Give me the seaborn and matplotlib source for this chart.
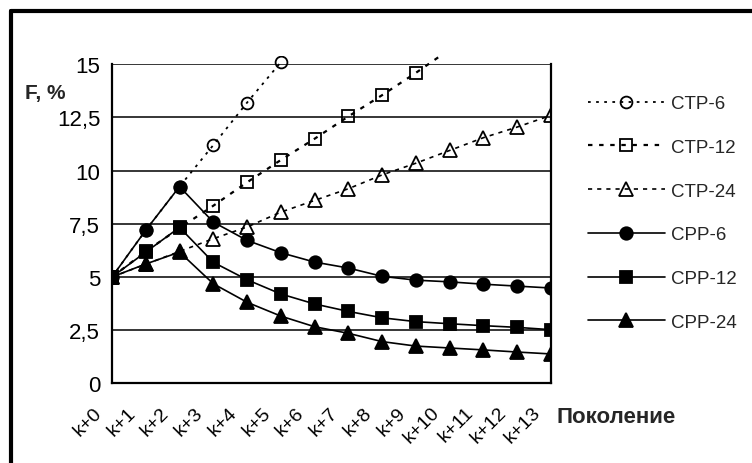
import matplotlib
matplotlib.use("Agg")
import matplotlib.pyplot as plt
import seaborn as sns
import numpy as np
import pandas as pd
from matplotlib.lines import Line2D
from matplotlib.patches import Rectangle
from matplotlib.transforms import ScaledTranslation

# ---- data ----
generations = ["k+0", "k+1", "k+2", "k+3", "k+4", "k+5", "k+6", "k+7",
               "k+8", "k+9", "k+10", "k+11", "k+12", "k+13"]
ctp6 = [5.0, 7.2, 9.25, 11.2, 13.2, 15.1]
ctp12 = [5.0, 6.2, 7.3, 8.35, 9.45, 10.5, 11.5, 12.55, 13.55, 14.6, 15.7]
ctp24 = [5.0, 5.6, 6.2, 6.8, 7.35, 8.05, 8.6, 9.15, 9.8, 10.35, 10.95, 11.55, 12.05, 12.6]
cpp6 = [5.0, 7.2, 9.25, 7.58, 6.72, 6.14, 5.7, 5.42, 5.03, 4.85, 4.77, 4.66, 4.57, 4.48]
cpp12 = [5.0, 6.17, 7.33, 5.69, 4.87, 4.2, 3.73, 3.38, 3.08, 2.9, 2.8, 2.71, 2.63, 2.52]
cpp24 = [5.0, 5.61, 6.17, 4.68, 3.81, 3.16, 2.66, 2.35, 1.96, 1.75, 1.66, 1.57, 1.47, 1.38]
yticks = [0, 2.5, 5, 7.5, 10, 12.5, 15]
ytick_labels = ["0", "2,5", "5", "7,5", "10", "12,5", "15"]

series = [
    ("CTP-6", ctp6, dict(marker="o", linestyle=(0, (1.5, 3.0)), linewidth=1.3,
                         markersize=8.5, markerfacecolor="none")),
    ("CTP-12", ctp12, dict(marker="s", linestyle=(0, (2.0, 3.0)), linewidth=1.6,
                           markersize=8, markerfacecolor="none")),
    ("CTP-24", ctp24, dict(marker="^", linestyle=(0, (2.5, 3.0)), linewidth=1.2,
                           markersize=9.5, markerfacecolor="none")),
    ("CPP-6", cpp6, dict(marker="o", linestyle="-", linewidth=1.2,
                         markersize=9, markerfacecolor="black")),
    ("CPP-12", cpp12, dict(marker="s", linestyle="-", linewidth=1.2,
                           markersize=8.5, markerfacecolor="black")),
    ("CPP-24", cpp24, dict(marker="^", linestyle="-", linewidth=1.2,
                           markersize=10, markerfacecolor="black")),
]

sns.set_style("white")
plt.rcParams["font.family"] = ["Liberation Sans", "DejaVu Sans"]

fig = plt.figure(figsize=(7.52, 4.64), dpi=100)
ax = fig.add_axes([112 / 752, 1 - 384.3 / 464, (551 - 112) / 752, (384.3 - 65.3) / 464])

clip = Rectangle((0, 0), 1, 15.4 / 15, transform=ax.transAxes, facecolor="none", edgecolor="none")

for i, (name, vals, kw) in enumerate(series):
    x = np.arange(len(vals))
    sns.lineplot(x=x, y=vals, ax=ax, color="black", markeredgecolor="black",
                 markeredgewidth=1.3, label=name, zorder=3 + i, **kw)
for ln in ax.lines:
    ln.set_clip_path(clip)

ax.set_xlim(0, len(generations) - 1)
ax.set_ylim(0, 15)
ax.set_xticks(np.arange(len(generations)))
ax.set_xticklabels(generations, rotation=45, ha="right", va="center",
                   rotation_mode="anchor", fontsize=14)
ax.set_yticks(yticks)
ax.set_yticklabels(ytick_labels, fontsize=16)
ax.grid(axis="y", color="black", linewidth=1.1)
ax.grid(axis="x", visible=False)
ax.set_axisbelow(True)
for side in ["left", "right", "bottom"]:
    ax.spines[side].set_visible(True)
    ax.spines[side].set_color("black")
    ax.spines[side].set_linewidth(1.6)
ax.spines["top"].set_visible(False)
ax.tick_params(axis="y", direction="out", length=5, width=1.5, pad=3.5, colors="black")
ax.tick_params(axis="x", direction="out", length=5, width=1.5, pad=14, colors="black")
for lbl in ax.get_xticklabels():
    lbl.set_transform(lbl.get_transform() + ScaledTranslation(-13 / 100, 0, fig.dpi_scale_trans))
ax.set_xlabel("")
ax.set_ylabel("")

leg = ax.legend(loc="upper left", bbox_to_anchor=(588 / 752, 1 - 96 / 464),
                bbox_transform=fig.transFigure, frameon=False, fontsize=13.5,
                handlelength=4.1, handletextpad=0.3, labelspacing=1.42,
                borderpad=0, borderaxespad=0)

fig.text(25 / 752, 1 - 93 / 464, "F, %", fontsize=15, fontweight="bold", va="center", ha="left")
fig.text(556 / 752, 1 - 418 / 464, "Поколение", fontsize=16, fontweight="bold", va="center", ha="left")

# outer frame (left and top edges)
fig.add_artist(Line2D([11 / 752, 11 / 752], [0, 1 - 12 / 464], transform=fig.transFigure,
                      color="black", linewidth=3))
fig.add_artist(Line2D([11 / 752, 1], [1 - 12 / 464, 1 - 12 / 464], transform=fig.transFigure,
                      color="black", linewidth=3))

fig.savefig("out.png", dpi=100)
